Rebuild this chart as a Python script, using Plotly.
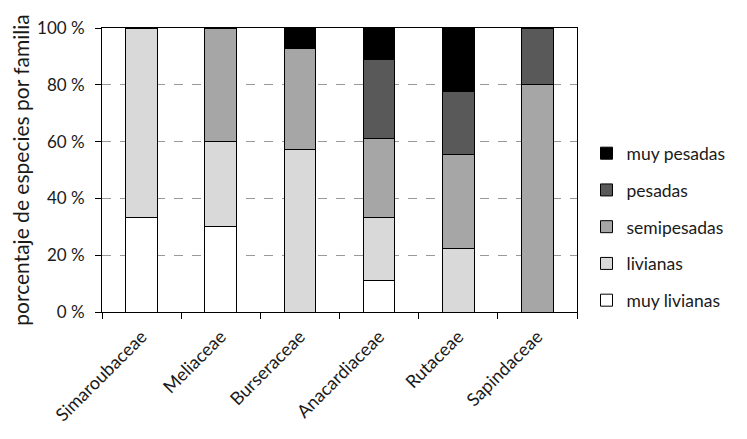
import plotly.graph_objects as go

familias = ["Simaroubaceae", "Meliaceae", "Burseraceae", "Anacardiaceae", "Rutaceae", "Sapindaceae"]
muy_livianas = [33.3, 30.0, 0.0, 11.1, 0.0, 0.0]
livianas = [66.7, 30.0, 57.1, 22.2, 22.2, 0.0]
semipesadas = [0.0, 40.0, 35.7, 27.8, 33.3, 80.0]
pesadas = [0.0, 0.0, 0.0, 27.8, 22.2, 20.0]
muy_pesadas = [0.0, 0.0, 7.2, 11.1, 22.3, 0.0]
y_ticks = [0, 20, 40, 60, 80, 100]
y_ticktext = ["0 %", "20 %", "40 %", "60 %", "80 %", "100 %"]

series = [
    ("muy livianas", muy_livianas, "#ffffff"),
    ("livianas", livianas, "#d9d9d9"),
    ("semipesadas", semipesadas, "#a6a6a6"),
    ("pesadas", pesadas, "#595959"),
    ("muy pesadas", muy_pesadas, "#000000"),
]

FONT = "Lato, Open Sans, sans-serif"
fig = go.Figure()
n = len(series)
for i, (name, vals, col) in enumerate(series):
    fig.add_trace(go.Bar(
        x=familias, y=vals, name=name, legendgroup=name, legendrank=n - i,
        marker=dict(color=col, line=dict(color="black", width=1)),
        width=0.4,
    ))

fig.update_layout(
    width=739, height=431,
    barmode="stack",
    plot_bgcolor="white", paper_bgcolor="white",
    margin=dict(l=94, r=170, t=20, b=127, autoexpand=False),
    font=dict(family=FONT, size=18, color="#1a1a1a"),
    legend=dict(
        x=1.02, xanchor="left", y=0.30, yanchor="middle",
        traceorder="grouped", tracegroupgap=11,
        font=dict(size=17.5, family=FONT, color="#1a1a1a"),
        itemwidth=30,
    ),
    showlegend=True,
)
fig.update_xaxes(
    type="category", tickson="boundaries", ticks="outside", ticklen=6,
    tickcolor="black", showline=True, linecolor="black", linewidth=1, mirror=True,
    tickangle=-45, tickfont=dict(size=18, family=FONT), showgrid=False,
    ticklabelstandoff=6,
)
fig.update_yaxes(
    range=[0, 100], tickvals=y_ticks, ticktext=y_ticktext, ticks="outside", ticklen=6,
    tickcolor="black", showline=True, linecolor="black", linewidth=1, mirror=True,
    showgrid=True, gridcolor="#999999", griddash="dash", gridwidth=1,
    zeroline=False, ticklabelstandoff=7,
    title=dict(text="porcentaje de especies por familia", font=dict(size=21, family=FONT), standoff=8),
    tickfont=dict(size=17, family=FONT),
)
fig.write_html("out.html")
